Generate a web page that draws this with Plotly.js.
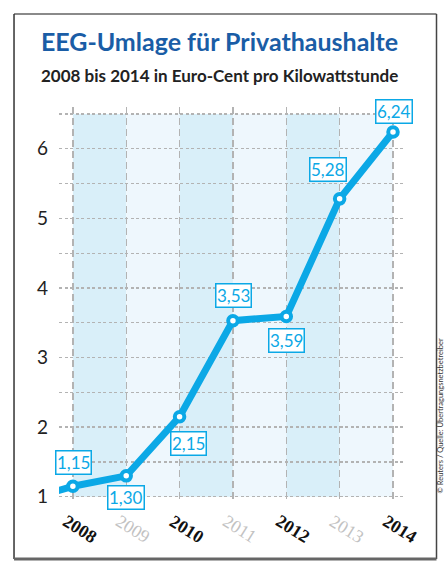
<!DOCTYPE html>
<html>
<head>
<meta charset="utf-8">
<script src="https://cdn.plot.ly/plotly-3.0.1.min.js"></script>
<style>html,body{margin:0;padding:0;background:#fff;}#chart{width:445px;height:563px;}</style>
</head>
<body>
<div id="chart"></div>
<script>
// ---- data ----
const years = [2008, 2009, 2010, 2011, 2012, 2013, 2014];
const umlage = [1.15, 1.30, 2.15, 3.53, 3.59, 5.28, 6.24];
const valueLabels = ["1,15", "1,30", "2,15", "3,53", "3,59", "5,28", "6,24"];
const yearLabels = ["2008", "2009", "2010", "2011", "2012", "2013", "2014"];
const leadX = [2007.65, 2008];
const leadY = [1.07, 1.15];
const yTicks = [1, 2, 3, 4, 5, 6];

// ---- style ----
const BLUE = "#0ba8e6";
const SANS = "Lato, 'Liberation Sans', sans-serif";
const SERIF = "'Liberation Serif', 'DejaVu Serif', serif";
// label offsets in px (dx, dy up)
const labelShift = [[0.5, 23.5], [0, -21.5], [9, -26.5], [0.5, 25], [0, -24], [-12, 29], [0.5, 20.5]];

const traces = [
  {x: leadX, y: leadY, mode: "lines", line: {color: BLUE, width: 7}, cliponaxis: false, hoverinfo: "skip", showlegend: false},
  {x: years, y: umlage, mode: "lines+markers", line: {color: BLUE, width: 7},
   marker: {size: 9.5, color: "#ffffff", line: {color: BLUE, width: 4}}, cliponaxis: false, showlegend: false}
];

const shapes = [];
for (let i = 0; i < years.length - 1; i++) {
  shapes.push({type: "rect", xref: "x", yref: "y", x0: years[i], x1: years[i + 1], y0: 1, y1: 6.5,
    fillcolor: i % 2 === 0 ? "#d9eff9" : "#eef7fd", line: {width: 0}, layer: "below"});
}
// frame
const FR = (436.5 - 59) / 346;
shapes.push({type: "line", xref: "paper", yref: "paper", x0: -0.130, x1: FR, y0: 1.2348, y1: 1.2348, line: {color: "#8a8a8a", width: 2}});
shapes.push({type: "line", xref: "paper", yref: "paper", x0: -0.130, x1: -0.130, y0: 1.2348, y1: -0.1414, line: {color: "#333", width: 1.5}});
shapes.push({type: "line", xref: "paper", yref: "paper", x0: FR, x1: FR, y0: 1.2348, y1: -0.1414, line: {color: "#444", width: 1.5}});
shapes.push({type: "line", xref: "paper", yref: "paper", x0: -0.130, x1: FR, y0: -0.1414, y1: -0.1414, line: {color: "#666", width: 3}});

const annotations = [];
years.forEach((yr, i) => {
  annotations.push({x: yr, y: umlage[i], xref: "x", yref: "y", text: valueLabels[i], showarrow: false,
    xanchor: "center", yanchor: "middle", xshift: labelShift[i][0], yshift: labelShift[i][1],
    font: {family: SANS, size: 17, color: BLUE}, bgcolor: "#ffffff", bordercolor: BLUE, borderwidth: 1.5, borderpad: 0.5});
  const bold = i % 2 === 0;
  annotations.push({x: yr, y: -0.065, xref: "x", yref: "paper", text: bold ? "<b>" + yearLabels[i] + "</b>" : yearLabels[i],
    showarrow: false, xanchor: "center", yanchor: "middle", xshift: 7, textangle: 32,
    font: {family: SERIF, size: 18, color: bold ? "#111111" : "#c2c2c2"}});
});
annotations.push({x: (219.5 - 59) / 346, y: 1.0783, xref: "paper", yref: "paper", showarrow: false,
  text: "<b>2008 bis 2014 in Euro-Cent pro Kilowattstunde</b>", xanchor: "center", yanchor: "middle",
  font: {family: SANS, size: 17, color: "#222222"}});
annotations.push({x: (440.5 - 59) / 346, y: 0.22, xref: "paper", yref: "paper", showarrow: false,
  text: "© Reuters / Quelle: Übertragungsnetzbetreiber", textangle: -90, xanchor: "center", yanchor: "middle",
  font: {family: SANS, size: 7.5, color: "#333333"}, borderpad: 0});

const layout = {
  width: 445, height: 563,
  margin: {l: 59, r: 40, t: 107, b: 60},
  paper_bgcolor: "#ffffff", plot_bgcolor: "#ffffff",
  title: {text: "<b>EEG-Umlage für Privathaushalte</b>", xref: "container", yref: "container",
    x: 219.5 / 445, y: 1 - 42 / 563, xanchor: "center", yanchor: "middle",
    font: {family: SANS, size: 25, color: "#1a5da6"}},
  xaxis: {range: [2007.74, 2014.225], tickvals: years, showticklabels: false, ticks: "",
    showgrid: true, gridcolor: "#b3b3b3", griddash: "7px,4px", gridwidth: 1.3, zeroline: false, showline: false, fixedrange: true},
  yaxis: {range: [0.91, 6.6], tickvals: yTicks, ticktext: yTicks.map(String), ticks: "", ticklabelstandoff: 10,
    tickfont: {family: SANS, size: 19, color: "#222"},
    showgrid: true, gridcolor: "#b3b3b3", griddash: "3px,2.5px", gridwidth: 1.3, zeroline: false, showline: false,
    minor: {dtick: 0.5, tick0: 0, showgrid: true, gridcolor: "#b3b3b3", griddash: "3px,2.5px", gridwidth: 1.3}, fixedrange: true},
  shapes: shapes,
  annotations: annotations,
  showlegend: false
};

Plotly.newPlot("chart", traces, layout, {displayModeBar: false, staticPlot: true});
</script>
</body>
</html>
